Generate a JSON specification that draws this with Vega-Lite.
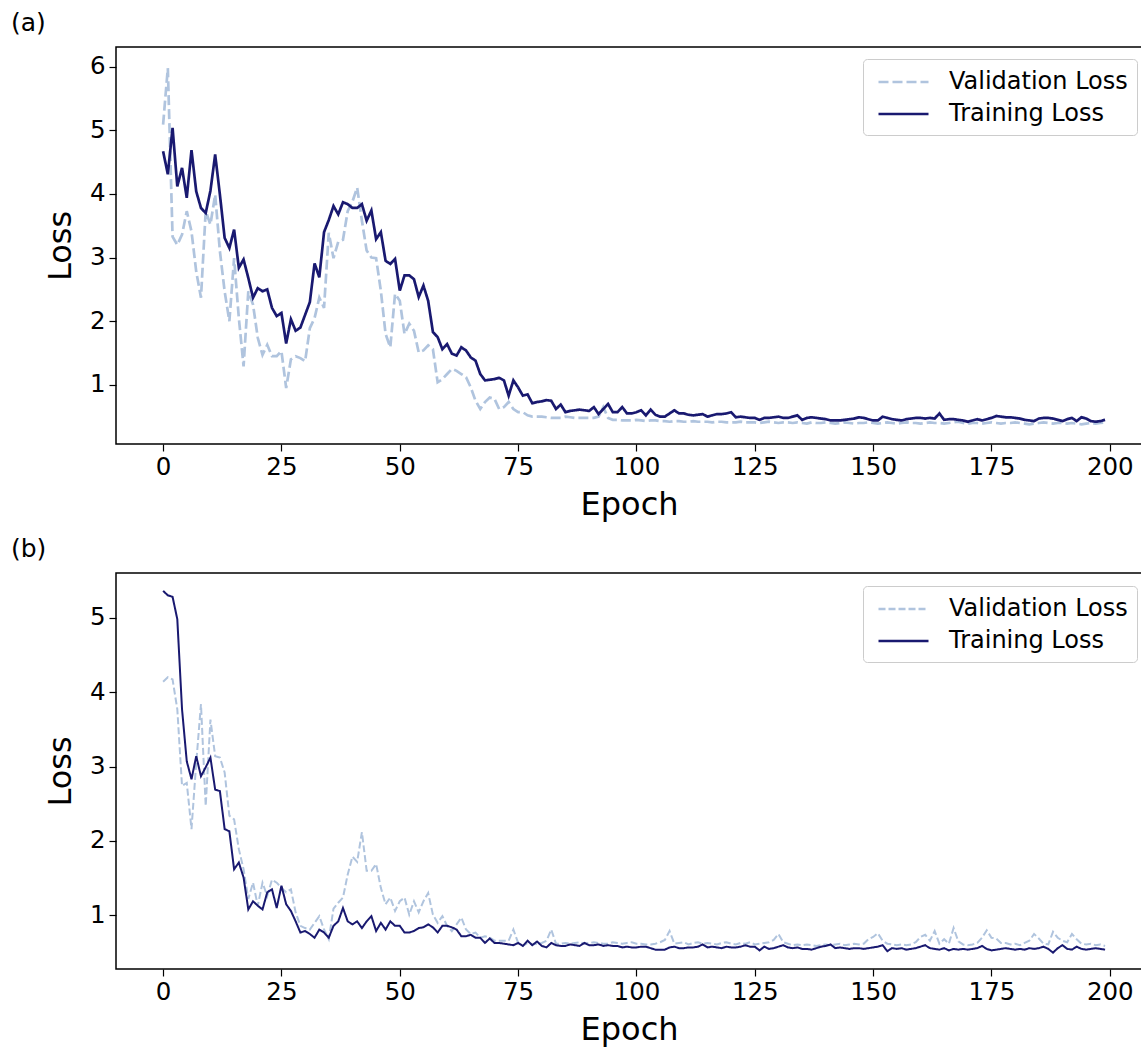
{
  "$schema": "https://vega.github.io/schema/vega-lite/v6.json",
  "padding": {"left": 10, "top": 10, "right": 0, "bottom": 0},
  "background": "white",
  "config": {
    "font": "DejaVu Sans",
    "view": {"stroke": "#000", "strokeWidth": 1.5},
    "axis": {"labelFont": "DejaVu Sans", "labelFontSize": 24.5, "labelColor": "#000", "titleFont": "DejaVu Sans", "titleFontSize": 32, "titleFontWeight": "normal", "titleColor": "#000", "tickColor": "#000", "tickSize": 7, "tickWidth": 1.2, "domain": false, "grid": false, "labelPadding": 4},
    "axisY": {"titlePadding": 12},
    "axisX": {"titlePadding": 11},
    "title": {"font": "DejaVu Sans", "fontSize": 25, "fontWeight": "normal", "color": "#000", "anchor": "start", "frame": "group"},
    "legend": {"orient": "none", "title": null, "symbolType": "M-0.6,0L3.4,0", "symbolSize": 625, "symbolStrokeWidth": 2.5, "labelFontSize": 24, "labelFont": "DejaVu Sans", "labelColor": "#000", "labelLimit": 0, "strokeColor": "#cccccc", "fillColor": "#ffffff", "padding": 9, "cornerRadius": 4, "rowPadding": 6, "labelOffset": 49}
  },
  "datasets": {
    "a": [
      {"e":0,"Validation Loss":5.09,"Training Loss":4.67},{"e":1,"Validation Loss":5.98,"Training Loss":4.31},{"e":2,"Validation Loss":3.33,"Training Loss":5.04},{"e":3,"Validation Loss":3.20,"Training Loss":4.12},{"e":4,"Validation Loss":3.36,"Training Loss":4.41},{"e":5,"Validation Loss":3.73,"Training Loss":3.94},{"e":6,"Validation Loss":3.41,"Training Loss":4.69},{"e":7,"Validation Loss":2.78,"Training Loss":4.04},{"e":8,"Validation Loss":2.37,"Training Loss":3.78},{"e":9,"Validation Loss":3.73,"Training Loss":3.70},
      {"e":10,"Validation Loss":3.52,"Training Loss":4.05},{"e":11,"Validation Loss":3.99,"Training Loss":4.62},{"e":12,"Validation Loss":3.10,"Training Loss":3.99},{"e":13,"Validation Loss":2.47,"Training Loss":3.31},{"e":14,"Validation Loss":2.00,"Training Loss":3.15},{"e":15,"Validation Loss":2.99,"Training Loss":3.44},{"e":16,"Validation Loss":2.05,"Training Loss":2.84},{"e":17,"Validation Loss":1.29,"Training Loss":2.97},{"e":18,"Validation Loss":2.47,"Training Loss":2.68},{"e":19,"Validation Loss":2.26,"Training Loss":2.37},
      {"e":20,"Validation Loss":1.74,"Training Loss":2.52},{"e":21,"Validation Loss":1.47,"Training Loss":2.47},{"e":22,"Validation Loss":1.63,"Training Loss":2.50},{"e":23,"Validation Loss":1.45,"Training Loss":2.21},{"e":24,"Validation Loss":1.45,"Training Loss":2.08},{"e":25,"Validation Loss":1.53,"Training Loss":2.13},{"e":26,"Validation Loss":0.95,"Training Loss":1.65},{"e":27,"Validation Loss":1.40,"Training Loss":2.03},{"e":28,"Validation Loss":1.45,"Training Loss":1.85},{"e":29,"Validation Loss":1.42,"Training Loss":1.90},
      {"e":30,"Validation Loss":1.37,"Training Loss":2.10},{"e":31,"Validation Loss":1.89,"Training Loss":2.30},{"e":32,"Validation Loss":2.05,"Training Loss":2.91},{"e":33,"Validation Loss":2.37,"Training Loss":2.69},{"e":34,"Validation Loss":2.21,"Training Loss":3.40},{"e":35,"Validation Loss":3.39,"Training Loss":3.59},{"e":36,"Validation Loss":2.99,"Training Loss":3.81},{"e":37,"Validation Loss":3.25,"Training Loss":3.68},{"e":38,"Validation Loss":3.28,"Training Loss":3.87},{"e":39,"Validation Loss":3.73,"Training Loss":3.84},
      {"e":40,"Validation Loss":3.88,"Training Loss":3.78},{"e":41,"Validation Loss":4.10,"Training Loss":3.78},{"e":42,"Validation Loss":3.58,"Training Loss":3.84},{"e":43,"Validation Loss":3.11,"Training Loss":3.58},{"e":44,"Validation Loss":3.00,"Training Loss":3.74},{"e":45,"Validation Loss":2.99,"Training Loss":3.29},{"e":46,"Validation Loss":2.48,"Training Loss":3.40},{"e":47,"Validation Loss":1.80,"Training Loss":2.95},{"e":48,"Validation Loss":1.59,"Training Loss":2.90},{"e":49,"Validation Loss":2.43,"Training Loss":2.98},
      {"e":50,"Validation Loss":2.32,"Training Loss":2.48},{"e":51,"Validation Loss":1.80,"Training Loss":2.72},{"e":52,"Validation Loss":1.96,"Training Loss":2.72},{"e":53,"Validation Loss":1.85,"Training Loss":2.66},{"e":54,"Validation Loss":1.51,"Training Loss":2.38},{"e":55,"Validation Loss":1.54,"Training Loss":2.56},{"e":56,"Validation Loss":1.62,"Training Loss":2.32},{"e":57,"Validation Loss":1.56,"Training Loss":1.83},{"e":58,"Validation Loss":1.04,"Training Loss":1.75},{"e":59,"Validation Loss":1.09,"Training Loss":1.56},
      {"e":60,"Validation Loss":1.17,"Training Loss":1.64},{"e":61,"Validation Loss":1.25,"Training Loss":1.49},{"e":62,"Validation Loss":1.22,"Training Loss":1.46},{"e":63,"Validation Loss":1.17,"Training Loss":1.59},{"e":64,"Validation Loss":1.12,"Training Loss":1.54},{"e":65,"Validation Loss":0.96,"Training Loss":1.43},{"e":66,"Validation Loss":0.75,"Training Loss":1.38},{"e":67,"Validation Loss":0.62,"Training Loss":1.17},{"e":68,"Validation Loss":0.73,"Training Loss":1.07},{"e":69,"Validation Loss":0.80,"Training Loss":1.08},
      {"e":70,"Validation Loss":0.78,"Training Loss":1.09},{"e":71,"Validation Loss":0.62,"Training Loss":1.11},{"e":72,"Validation Loss":0.65,"Training Loss":1.07},{"e":73,"Validation Loss":0.73,"Training Loss":0.83},{"e":74,"Validation Loss":0.62,"Training Loss":1.07},{"e":75,"Validation Loss":0.57,"Training Loss":0.96},{"e":76,"Validation Loss":0.57,"Training Loss":0.83},{"e":77,"Validation Loss":0.52,"Training Loss":0.85},{"e":78,"Validation Loss":0.50,"Training Loss":0.71},{"e":79,"Validation Loss":0.50,"Training Loss":0.73},
      {"e":80,"Validation Loss":0.50,"Training Loss":0.74},{"e":81,"Validation Loss":0.49,"Training Loss":0.76},{"e":82,"Validation Loss":0.48,"Training Loss":0.75},{"e":83,"Validation Loss":0.48,"Training Loss":0.62},{"e":84,"Validation Loss":0.48,"Training Loss":0.69},{"e":85,"Validation Loss":0.50,"Training Loss":0.57},{"e":86,"Validation Loss":0.49,"Training Loss":0.59},{"e":87,"Validation Loss":0.48,"Training Loss":0.60},{"e":88,"Validation Loss":0.48,"Training Loss":0.61},{"e":89,"Validation Loss":0.48,"Training Loss":0.60},
      {"e":90,"Validation Loss":0.48,"Training Loss":0.59},{"e":91,"Validation Loss":0.48,"Training Loss":0.65},{"e":92,"Validation Loss":0.50,"Training Loss":0.54},{"e":93,"Validation Loss":0.65,"Training Loss":0.62},{"e":94,"Validation Loss":0.48,"Training Loss":0.70},{"e":95,"Validation Loss":0.45,"Training Loss":0.57},{"e":96,"Validation Loss":0.45,"Training Loss":0.57},{"e":97,"Validation Loss":0.44,"Training Loss":0.65},{"e":98,"Validation Loss":0.44,"Training Loss":0.55},{"e":99,"Validation Loss":0.44,"Training Loss":0.55},
      {"e":100,"Validation Loss":0.45,"Training Loss":0.57},{"e":101,"Validation Loss":0.44,"Training Loss":0.60},{"e":102,"Validation Loss":0.43,"Training Loss":0.52},{"e":103,"Validation Loss":0.44,"Training Loss":0.61},{"e":104,"Validation Loss":0.44,"Training Loss":0.53},{"e":105,"Validation Loss":0.43,"Training Loss":0.50},{"e":106,"Validation Loss":0.43,"Training Loss":0.50},{"e":107,"Validation Loss":0.42,"Training Loss":0.55},{"e":108,"Validation Loss":0.43,"Training Loss":0.60},{"e":109,"Validation Loss":0.43,"Training Loss":0.55},
      {"e":110,"Validation Loss":0.42,"Training Loss":0.55},{"e":111,"Validation Loss":0.42,"Training Loss":0.53},{"e":112,"Validation Loss":0.43,"Training Loss":0.52},{"e":113,"Validation Loss":0.42,"Training Loss":0.53},{"e":114,"Validation Loss":0.42,"Training Loss":0.54},{"e":115,"Validation Loss":0.42,"Training Loss":0.50},{"e":116,"Validation Loss":0.41,"Training Loss":0.52},{"e":117,"Validation Loss":0.42,"Training Loss":0.54},{"e":118,"Validation Loss":0.42,"Training Loss":0.54},{"e":119,"Validation Loss":0.41,"Training Loss":0.55},
      {"e":120,"Validation Loss":0.41,"Training Loss":0.57},{"e":121,"Validation Loss":0.41,"Training Loss":0.49},{"e":122,"Validation Loss":0.42,"Training Loss":0.50},{"e":123,"Validation Loss":0.41,"Training Loss":0.49},{"e":124,"Validation Loss":0.41,"Training Loss":0.48},{"e":125,"Validation Loss":0.41,"Training Loss":0.48},{"e":126,"Validation Loss":0.40,"Training Loss":0.45},{"e":127,"Validation Loss":0.41,"Training Loss":0.48},{"e":128,"Validation Loss":0.42,"Training Loss":0.48},{"e":129,"Validation Loss":0.41,"Training Loss":0.49},
      {"e":130,"Validation Loss":0.40,"Training Loss":0.50},{"e":131,"Validation Loss":0.41,"Training Loss":0.48},{"e":132,"Validation Loss":0.41,"Training Loss":0.48},{"e":133,"Validation Loss":0.40,"Training Loss":0.50},{"e":134,"Validation Loss":0.41,"Training Loss":0.52},{"e":135,"Validation Loss":0.40,"Training Loss":0.45},{"e":136,"Validation Loss":0.39,"Training Loss":0.48},{"e":137,"Validation Loss":0.41,"Training Loss":0.49},{"e":138,"Validation Loss":0.40,"Training Loss":0.48},{"e":139,"Validation Loss":0.40,"Training Loss":0.47},
      {"e":140,"Validation Loss":0.41,"Training Loss":0.46},{"e":141,"Validation Loss":0.40,"Training Loss":0.44},{"e":142,"Validation Loss":0.39,"Training Loss":0.44},{"e":143,"Validation Loss":0.40,"Training Loss":0.44},{"e":144,"Validation Loss":0.41,"Training Loss":0.45},{"e":145,"Validation Loss":0.40,"Training Loss":0.46},{"e":146,"Validation Loss":0.39,"Training Loss":0.47},{"e":147,"Validation Loss":0.40,"Training Loss":0.49},{"e":148,"Validation Loss":0.40,"Training Loss":0.48},{"e":149,"Validation Loss":0.41,"Training Loss":0.46},
      {"e":150,"Validation Loss":0.40,"Training Loss":0.44},{"e":151,"Validation Loss":0.39,"Training Loss":0.44},{"e":152,"Validation Loss":0.40,"Training Loss":0.50},{"e":153,"Validation Loss":0.41,"Training Loss":0.48},{"e":154,"Validation Loss":0.40,"Training Loss":0.46},{"e":155,"Validation Loss":0.39,"Training Loss":0.45},{"e":156,"Validation Loss":0.40,"Training Loss":0.44},{"e":157,"Validation Loss":0.41,"Training Loss":0.46},{"e":158,"Validation Loss":0.40,"Training Loss":0.47},{"e":159,"Validation Loss":0.40,"Training Loss":0.48},
      {"e":160,"Validation Loss":0.39,"Training Loss":0.48},{"e":161,"Validation Loss":0.40,"Training Loss":0.47},{"e":162,"Validation Loss":0.41,"Training Loss":0.48},{"e":163,"Validation Loss":0.40,"Training Loss":0.47},{"e":164,"Validation Loss":0.40,"Training Loss":0.55},{"e":165,"Validation Loss":0.39,"Training Loss":0.45},{"e":166,"Validation Loss":0.40,"Training Loss":0.46},{"e":167,"Validation Loss":0.41,"Training Loss":0.46},{"e":168,"Validation Loss":0.42,"Training Loss":0.45},{"e":169,"Validation Loss":0.40,"Training Loss":0.44},
      {"e":170,"Validation Loss":0.39,"Training Loss":0.42},{"e":171,"Validation Loss":0.40,"Training Loss":0.44},{"e":172,"Validation Loss":0.40,"Training Loss":0.46},{"e":173,"Validation Loss":0.39,"Training Loss":0.44},{"e":174,"Validation Loss":0.40,"Training Loss":0.46},{"e":175,"Validation Loss":0.41,"Training Loss":0.48},{"e":176,"Validation Loss":0.40,"Training Loss":0.51},{"e":177,"Validation Loss":0.39,"Training Loss":0.50},{"e":178,"Validation Loss":0.40,"Training Loss":0.49},{"e":179,"Validation Loss":0.40,"Training Loss":0.49},
      {"e":180,"Validation Loss":0.41,"Training Loss":0.48},{"e":181,"Validation Loss":0.40,"Training Loss":0.47},{"e":182,"Validation Loss":0.39,"Training Loss":0.45},{"e":183,"Validation Loss":0.38,"Training Loss":0.44},{"e":184,"Validation Loss":0.39,"Training Loss":0.43},{"e":185,"Validation Loss":0.40,"Training Loss":0.47},{"e":186,"Validation Loss":0.41,"Training Loss":0.48},{"e":187,"Validation Loss":0.40,"Training Loss":0.48},{"e":188,"Validation Loss":0.39,"Training Loss":0.47},{"e":189,"Validation Loss":0.40,"Training Loss":0.45},
      {"e":190,"Validation Loss":0.40,"Training Loss":0.43},{"e":191,"Validation Loss":0.39,"Training Loss":0.46},{"e":192,"Validation Loss":0.40,"Training Loss":0.48},{"e":193,"Validation Loss":0.39,"Training Loss":0.43},{"e":194,"Validation Loss":0.38,"Training Loss":0.49},{"e":195,"Validation Loss":0.39,"Training Loss":0.47},{"e":196,"Validation Loss":0.40,"Training Loss":0.43},{"e":197,"Validation Loss":0.39,"Training Loss":0.42},{"e":198,"Validation Loss":0.40,"Training Loss":0.43},{"e":199,"Validation Loss":0.41,"Training Loss":0.45}
    ],
    "b": [
      {"e":0,"Validation Loss":4.14,"Training Loss":5.36},{"e":1,"Validation Loss":4.20,"Training Loss":5.30},{"e":2,"Validation Loss":4.17,"Training Loss":5.28},{"e":3,"Validation Loss":3.77,"Training Loss":4.98},{"e":4,"Validation Loss":2.74,"Training Loss":3.77},{"e":5,"Validation Loss":2.78,"Training Loss":3.07},{"e":6,"Validation Loss":2.16,"Training Loss":2.83},{"e":7,"Validation Loss":3.05,"Training Loss":3.14},{"e":8,"Validation Loss":3.84,"Training Loss":2.87},{"e":9,"Validation Loss":2.47,"Training Loss":2.99},
      {"e":10,"Validation Loss":3.63,"Training Loss":3.12},{"e":11,"Validation Loss":3.14,"Training Loss":2.69},{"e":12,"Validation Loss":3.12,"Training Loss":2.67},{"e":13,"Validation Loss":2.92,"Training Loss":2.16},{"e":14,"Validation Loss":2.34,"Training Loss":2.13},{"e":15,"Validation Loss":2.29,"Training Loss":1.62},{"e":16,"Validation Loss":1.89,"Training Loss":1.71},{"e":17,"Validation Loss":1.62,"Training Loss":1.51},{"e":18,"Validation Loss":1.22,"Training Loss":1.08},{"e":19,"Validation Loss":1.44,"Training Loss":1.19},
      {"e":20,"Validation Loss":1.13,"Training Loss":1.13},{"e":21,"Validation Loss":1.44,"Training Loss":1.08},{"e":22,"Validation Loss":1.26,"Training Loss":1.31},{"e":23,"Validation Loss":1.48,"Training Loss":1.35},{"e":24,"Validation Loss":1.44,"Training Loss":1.10},{"e":25,"Validation Loss":1.37,"Training Loss":1.40},{"e":26,"Validation Loss":1.31,"Training Loss":1.15},{"e":27,"Validation Loss":1.35,"Training Loss":1.06},{"e":28,"Validation Loss":1.04,"Training Loss":0.92},{"e":29,"Validation Loss":0.86,"Training Loss":0.77},
      {"e":30,"Validation Loss":0.83,"Training Loss":0.79},{"e":31,"Validation Loss":0.81,"Training Loss":0.75},{"e":32,"Validation Loss":0.90,"Training Loss":0.70},{"e":33,"Validation Loss":0.99,"Training Loss":0.81},{"e":34,"Validation Loss":0.81,"Training Loss":0.77},{"e":35,"Validation Loss":0.68,"Training Loss":0.70},{"e":36,"Validation Loss":1.09,"Training Loss":0.86},{"e":37,"Validation Loss":1.17,"Training Loss":0.92},{"e":38,"Validation Loss":1.24,"Training Loss":1.10},{"e":39,"Validation Loss":1.55,"Training Loss":0.92},
      {"e":40,"Validation Loss":1.79,"Training Loss":0.88},{"e":41,"Validation Loss":1.72,"Training Loss":0.92},{"e":42,"Validation Loss":2.12,"Training Loss":0.83},{"e":43,"Validation Loss":1.60,"Training Loss":0.92},{"e":44,"Validation Loss":1.60,"Training Loss":0.99},{"e":45,"Validation Loss":1.69,"Training Loss":0.79},{"e":46,"Validation Loss":1.37,"Training Loss":0.90},{"e":47,"Validation Loss":1.15,"Training Loss":0.81},{"e":48,"Validation Loss":1.24,"Training Loss":0.92},{"e":49,"Validation Loss":1.06,"Training Loss":0.86},
      {"e":50,"Validation Loss":1.19,"Training Loss":0.86},{"e":51,"Validation Loss":1.24,"Training Loss":0.77},{"e":52,"Validation Loss":1.01,"Training Loss":0.77},{"e":53,"Validation Loss":1.19,"Training Loss":0.79},{"e":54,"Validation Loss":1.04,"Training Loss":0.83},{"e":55,"Validation Loss":1.19,"Training Loss":0.84},{"e":56,"Validation Loss":1.30,"Training Loss":0.88},{"e":57,"Validation Loss":1.01,"Training Loss":0.84},{"e":58,"Validation Loss":0.90,"Training Loss":0.77},{"e":59,"Validation Loss":0.99,"Training Loss":0.86},
      {"e":60,"Validation Loss":0.86,"Training Loss":0.86},{"e":61,"Validation Loss":0.79,"Training Loss":0.84},{"e":62,"Validation Loss":0.88,"Training Loss":0.81},{"e":63,"Validation Loss":0.97,"Training Loss":0.72},{"e":64,"Validation Loss":0.81,"Training Loss":0.72},{"e":65,"Validation Loss":0.75,"Training Loss":0.74},{"e":66,"Validation Loss":0.77,"Training Loss":0.70},{"e":67,"Validation Loss":0.70,"Training Loss":0.70},{"e":68,"Validation Loss":0.72,"Training Loss":0.63},{"e":69,"Validation Loss":0.70,"Training Loss":0.69},
      {"e":70,"Validation Loss":0.66,"Training Loss":0.63},{"e":71,"Validation Loss":0.66,"Training Loss":0.63},{"e":72,"Validation Loss":0.66,"Training Loss":0.62},{"e":73,"Validation Loss":0.66,"Training Loss":0.61},{"e":74,"Validation Loss":0.81,"Training Loss":0.60},{"e":75,"Validation Loss":0.63,"Training Loss":0.63},{"e":76,"Validation Loss":0.59,"Training Loss":0.59},{"e":77,"Validation Loss":0.63,"Training Loss":0.66},{"e":78,"Validation Loss":0.61,"Training Loss":0.60},{"e":79,"Validation Loss":0.62,"Training Loss":0.65},
      {"e":80,"Validation Loss":0.63,"Training Loss":0.59},{"e":81,"Validation Loss":0.66,"Training Loss":0.57},{"e":82,"Validation Loss":0.81,"Training Loss":0.63},{"e":83,"Validation Loss":0.62,"Training Loss":0.60},{"e":84,"Validation Loss":0.62,"Training Loss":0.59},{"e":85,"Validation Loss":0.63,"Training Loss":0.59},{"e":86,"Validation Loss":0.62,"Training Loss":0.61},{"e":87,"Validation Loss":0.63,"Training Loss":0.60},{"e":88,"Validation Loss":0.64,"Training Loss":0.59},{"e":89,"Validation Loss":0.62,"Training Loss":0.63},
      {"e":90,"Validation Loss":0.63,"Training Loss":0.60},{"e":91,"Validation Loss":0.64,"Training Loss":0.60},{"e":92,"Validation Loss":0.63,"Training Loss":0.61},{"e":93,"Validation Loss":0.62,"Training Loss":0.59},{"e":94,"Validation Loss":0.62,"Training Loss":0.60},{"e":95,"Validation Loss":0.64,"Training Loss":0.59},{"e":96,"Validation Loss":0.63,"Training Loss":0.59},{"e":97,"Validation Loss":0.62,"Training Loss":0.57},{"e":98,"Validation Loss":0.63,"Training Loss":0.58},{"e":99,"Validation Loss":0.64,"Training Loss":0.57},
      {"e":100,"Validation Loss":0.62,"Training Loss":0.57},{"e":101,"Validation Loss":0.62,"Training Loss":0.58},{"e":102,"Validation Loss":0.61,"Training Loss":0.58},{"e":103,"Validation Loss":0.61,"Training Loss":0.56},{"e":104,"Validation Loss":0.62,"Training Loss":0.54},{"e":105,"Validation Loss":0.64,"Training Loss":0.54},{"e":106,"Validation Loss":0.67,"Training Loss":0.54},{"e":107,"Validation Loss":0.79,"Training Loss":0.57},{"e":108,"Validation Loss":0.62,"Training Loss":0.58},{"e":109,"Validation Loss":0.63,"Training Loss":0.56},
      {"e":110,"Validation Loss":0.64,"Training Loss":0.56},{"e":111,"Validation Loss":0.61,"Training Loss":0.57},{"e":112,"Validation Loss":0.63,"Training Loss":0.57},{"e":113,"Validation Loss":0.64,"Training Loss":0.58},{"e":114,"Validation Loss":0.62,"Training Loss":0.61},{"e":115,"Validation Loss":0.63,"Training Loss":0.57},{"e":116,"Validation Loss":0.62,"Training Loss":0.58},{"e":117,"Validation Loss":0.61,"Training Loss":0.57},{"e":118,"Validation Loss":0.63,"Training Loss":0.56},{"e":119,"Validation Loss":0.64,"Training Loss":0.58},
      {"e":120,"Validation Loss":0.62,"Training Loss":0.57},{"e":121,"Validation Loss":0.61,"Training Loss":0.57},{"e":122,"Validation Loss":0.63,"Training Loss":0.58},{"e":123,"Validation Loss":0.62,"Training Loss":0.60},{"e":124,"Validation Loss":0.64,"Training Loss":0.58},{"e":125,"Validation Loss":0.61,"Training Loss":0.58},{"e":126,"Validation Loss":0.62,"Training Loss":0.53},{"e":127,"Validation Loss":0.63,"Training Loss":0.58},{"e":128,"Validation Loss":0.64,"Training Loss":0.55},{"e":129,"Validation Loss":0.67,"Training Loss":0.56},
      {"e":130,"Validation Loss":0.75,"Training Loss":0.58},{"e":131,"Validation Loss":0.64,"Training Loss":0.60},{"e":132,"Validation Loss":0.62,"Training Loss":0.57},{"e":133,"Validation Loss":0.60,"Training Loss":0.56},{"e":134,"Validation Loss":0.61,"Training Loss":0.57},{"e":135,"Validation Loss":0.60,"Training Loss":0.55},{"e":136,"Validation Loss":0.61,"Training Loss":0.55},{"e":137,"Validation Loss":0.60,"Training Loss":0.54},{"e":138,"Validation Loss":0.59,"Training Loss":0.56},{"e":139,"Validation Loss":0.60,"Training Loss":0.58},
      {"e":140,"Validation Loss":0.61,"Training Loss":0.59},{"e":141,"Validation Loss":0.60,"Training Loss":0.61},{"e":142,"Validation Loss":0.61,"Training Loss":0.56},{"e":143,"Validation Loss":0.62,"Training Loss":0.57},{"e":144,"Validation Loss":0.60,"Training Loss":0.56},{"e":145,"Validation Loss":0.61,"Training Loss":0.55},{"e":146,"Validation Loss":0.62,"Training Loss":0.56},{"e":147,"Validation Loss":0.61,"Training Loss":0.56},{"e":148,"Validation Loss":0.62,"Training Loss":0.55},{"e":149,"Validation Loss":0.68,"Training Loss":0.56},
      {"e":150,"Validation Loss":0.71,"Training Loss":0.57},{"e":151,"Validation Loss":0.76,"Training Loss":0.58},{"e":152,"Validation Loss":0.66,"Training Loss":0.60},{"e":153,"Validation Loss":0.62,"Training Loss":0.52},{"e":154,"Validation Loss":0.61,"Training Loss":0.56},{"e":155,"Validation Loss":0.60,"Training Loss":0.55},{"e":156,"Validation Loss":0.61,"Training Loss":0.56},{"e":157,"Validation Loss":0.60,"Training Loss":0.54},{"e":158,"Validation Loss":0.61,"Training Loss":0.55},{"e":159,"Validation Loss":0.64,"Training Loss":0.56},
      {"e":160,"Validation Loss":0.71,"Training Loss":0.58},{"e":161,"Validation Loss":0.74,"Training Loss":0.60},{"e":162,"Validation Loss":0.66,"Training Loss":0.56},{"e":163,"Validation Loss":0.79,"Training Loss":0.55},{"e":164,"Validation Loss":0.62,"Training Loss":0.54},{"e":165,"Validation Loss":0.68,"Training Loss":0.56},{"e":166,"Validation Loss":0.62,"Training Loss":0.53},{"e":167,"Validation Loss":0.83,"Training Loss":0.55},{"e":168,"Validation Loss":0.65,"Training Loss":0.54},{"e":169,"Validation Loss":0.61,"Training Loss":0.55},
      {"e":170,"Validation Loss":0.60,"Training Loss":0.54},{"e":171,"Validation Loss":0.61,"Training Loss":0.55},{"e":172,"Validation Loss":0.63,"Training Loss":0.56},{"e":173,"Validation Loss":0.70,"Training Loss":0.59},{"e":174,"Validation Loss":0.80,"Training Loss":0.55},{"e":175,"Validation Loss":0.70,"Training Loss":0.53},{"e":176,"Validation Loss":0.69,"Training Loss":0.54},{"e":177,"Validation Loss":0.63,"Training Loss":0.55},{"e":178,"Validation Loss":0.63,"Training Loss":0.56},{"e":179,"Validation Loss":0.61,"Training Loss":0.55},
      {"e":180,"Validation Loss":0.62,"Training Loss":0.54},{"e":181,"Validation Loss":0.60,"Training Loss":0.55},{"e":182,"Validation Loss":0.63,"Training Loss":0.54},{"e":183,"Validation Loss":0.66,"Training Loss":0.56},{"e":184,"Validation Loss":0.75,"Training Loss":0.55},{"e":185,"Validation Loss":0.69,"Training Loss":0.56},{"e":186,"Validation Loss":0.62,"Training Loss":0.58},{"e":187,"Validation Loss":0.61,"Training Loss":0.55},{"e":188,"Validation Loss":0.78,"Training Loss":0.50},{"e":189,"Validation Loss":0.70,"Training Loss":0.56},
      {"e":190,"Validation Loss":0.66,"Training Loss":0.60},{"e":191,"Validation Loss":0.64,"Training Loss":0.55},{"e":192,"Validation Loss":0.75,"Training Loss":0.54},{"e":193,"Validation Loss":0.68,"Training Loss":0.58},{"e":194,"Validation Loss":0.62,"Training Loss":0.55},{"e":195,"Validation Loss":0.61,"Training Loss":0.54},{"e":196,"Validation Loss":0.62,"Training Loss":0.55},{"e":197,"Validation Loss":0.60,"Training Loss":0.56},{"e":198,"Validation Loss":0.61,"Training Loss":0.55},{"e":199,"Validation Loss":0.59,"Training Loss":0.54}
    ]
  },
  "vconcat": [
    {
      "title": {"text": "(a)", "dx": -105, "offset": 11},
      "width": 1026,
      "height": 397,
      "data": {"name": "a"},
      "transform": [{"fold": ["Validation Loss", "Training Loss"], "as": ["series", "loss"]}],
      "mark": {"type": "line", "strokeWidth": 2.7, "clip": true},
      "encoding": {
        "x": {"field": "e", "type": "quantitative", "scale": {"domain": [-9.95, 206.8], "nice": false, "zero": false}, "axis": {"title": "Epoch", "values": [0, 25, 50, 75, 100, 125, 150, 175, 200]}},
        "y": {"field": "loss", "type": "quantitative", "scale": {"domain": [0.07, 6.31], "nice": false, "zero": false}, "axis": {"title": "Loss", "values": [1, 2, 3, 4, 5, 6]}},
        "color": {"field": "series", "type": "nominal", "scale": {"domain": ["Validation Loss", "Training Loss"], "range": ["#b0c4de", "#191970"]}, "legend": {"legendX": 747, "legendY": 12}},
        "strokeDash": {"field": "series", "type": "nominal", "scale": {"domain": ["Validation Loss", "Training Loss"], "range": [[10, 4], [1, 0]]}, "legend": {"legendX": 747, "legendY": 12}}
      }
    },
    {
      "title": {"text": "(b)", "dx": -105, "offset": 11},
      "width": 1026,
      "height": 396,
      "data": {"name": "b"},
      "transform": [{"fold": ["Validation Loss", "Training Loss"], "as": ["series", "loss"]}],
      "mark": {"type": "line", "strokeWidth": 2.0, "clip": true},
      "encoding": {
        "x": {"field": "e", "type": "quantitative", "scale": {"domain": [-9.95, 206.8], "nice": false, "zero": false}, "axis": {"title": "Epoch", "values": [0, 25, 50, 75, 100, 125, 150, 175, 200]}},
        "y": {"field": "loss", "type": "quantitative", "scale": {"domain": [0.28, 5.6], "nice": false, "zero": false}, "axis": {"title": "Loss", "values": [1, 2, 3, 4, 5]}},
        "color": {"field": "series", "type": "nominal", "scale": {"domain": ["Validation Loss", "Training Loss"], "range": ["#b0c4de", "#191970"]}, "legend": {"legendX": 747, "legendY": 13}},
        "strokeDash": {"field": "series", "type": "nominal", "scale": {"domain": ["Validation Loss", "Training Loss"], "range": [[7, 3], [1, 0]]}, "legend": {"legendX": 747, "legendY": 13}}
      }
    }
  ],
  "resolve": {"scale": {"color": "independent", "strokeDash": "independent"}},
  "spacing": 14
}
